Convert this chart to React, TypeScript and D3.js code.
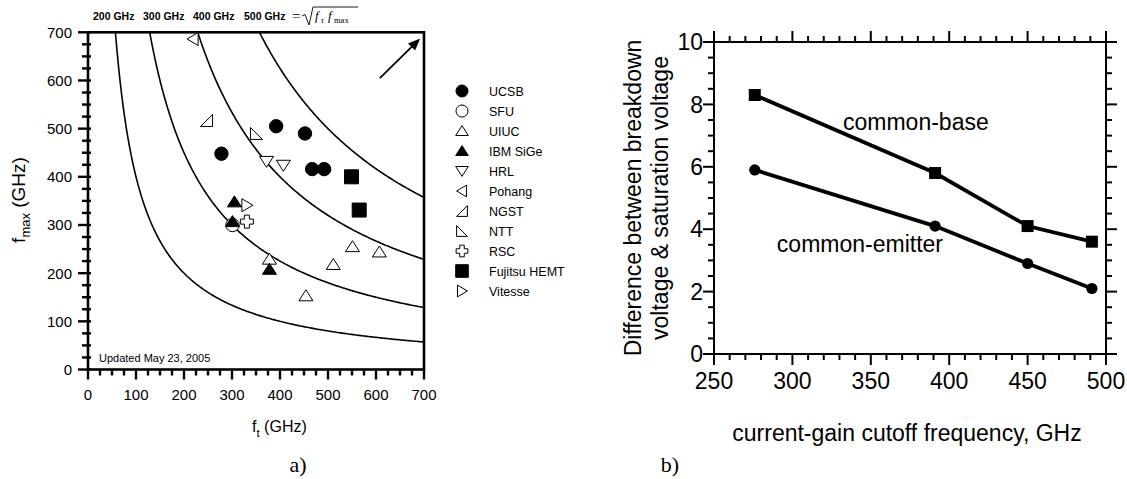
import React from "react";
import * as d3 from "d3";

const SANS = "'Liberation Sans', Arial, Helvetica, sans-serif";
const SERIF = "'Liberation Serif', 'Times New Roman', serif";

// ---- panel a) : fmax vs ft ----
const isoLevels = [200, 300, 400, 500];
const isoLabels = ["200 GHz", "300 GHz", "400 GHz", "500 GHz"];
const legendNames = ["UCSB", "SFU", "UIUC", "IBM SiGe", "HRL", "Pohang", "NGST", "NTT", "RSC", "Fujitsu HEMT", "Vitesse"];
const legendKinds = ["circleFill", "circleOpen", "triUp", "triUpFill", "triDown", "triLeft", "ngst", "ntt", "cross", "square", "triRight"];

const sfu = [[301, 300]];
const ucsb = [[278, 448], [392, 505], [452, 490], [467, 416], [492, 416]];
const uiuc = [[378, 229], [454, 153], [511, 218], [551, 255], [607, 244]];
const ibm = [[305, 348], [301, 307], [378, 208]];
const hrl = [[372, 432], [407, 424]];
const pohang = [[219, 686]];
const ngst = [[247, 517]];
const ntt = [[351, 490]];
const rsc = [[331, 307]];
const fujitsu = [[549, 400], [565, 331]];
const vitesse = [[331, 341]];
const arrowFrom = [608, 605];
const arrowTo = [692, 687];

// ---- panel b) ----
const ftB = [276, 391, 450, 491];
const commonBase = [8.3, 5.8, 4.1, 3.6];
const commonEmitter = [5.9, 4.1, 2.9, 2.1];

function markerPath(kind: string, k = 1) {
  const p = (pts: number[][]) => "M" + pts.map(([x, y]) => `${x * k},${y * k}`).join("L") + "Z";
  switch (kind) {
    case "circleFill":
    case "circleOpen": {
      const r = 6.7 * k;
      return `M${-r},0A${r},${r} 0 1,0 ${r},0A${r},${r} 0 1,0 ${-r},0Z`;
    }
    case "triUp":
    case "triUpFill":
      return p([[0, -6], [7, 5], [-7, 5]]);
    case "triDown":
      return p([[-7, -5], [7, -5], [0, 6]]);
    case "triLeft":
      return p([[-6, 0], [5, -6.5], [5, 6.5]]);
    case "triRight":
      return p([[6, 0], [-5, -6.5], [-5, 6.5]]);
    case "ngst":
      return p([[-6, 6], [6, 6], [6, -6]]);
    case "ntt":
      return p([[-6, -6], [-6, 6], [6, 6]]);
    case "cross":
      return p([[-2.5, -6.5], [2.5, -6.5], [2.5, -2.5], [6.5, -2.5], [6.5, 2.5], [2.5, 2.5], [2.5, 6.5], [-2.5, 6.5], [-2.5, 2.5], [-6.5, 2.5], [-6.5, -2.5], [-2.5, -2.5]]);
    case "square":
      return p([[-7, -7], [7, -7], [7, 7], [-7, 7]]);
  }
  return "";
}
const filled = (kind: string) => kind === "circleFill" || kind === "triUpFill" || kind === "square";

const ChartA = () => {
  const x = d3.scaleLinear().domain([0, 700]).range([88, 424]);
  const y = d3.scaleLinear().domain([0, 700]).range([369.5, 32.3]);
  const ticks = d3.range(0, 701, 25);

  const curves = isoLevels.map(f => {
    const lo = (f * f) / 700;
    const pts = d3.range(0, 201).map(i => lo + ((700 - lo) * i) / 200);
    return d3.line<number>().x(d => x(d)).y(d => y((f * f) / d))(pts) as string;
  });

  const series: [number[][], string][] = [
    [sfu, "circleOpen"], [ucsb, "circleFill"], [uiuc, "triUp"], [ibm, "triUpFill"], [hrl, "triDown"],
    [pohang, "triLeft"], [ngst, "ngst"], [ntt, "ntt"], [rsc, "cross"], [fujitsu, "square"], [vitesse, "triRight"],
  ];

  const ax0 = x(arrowFrom[0]), ay0 = y(arrowFrom[1]);
  const ax1 = x(arrowTo[0]), ay1 = y(arrowTo[1]);
  const ang = Math.atan2(ay1 - ay0, ax1 - ax0);
  const hl = 12, hw = 5;
  const head = [
    [ax1, ay1],
    [ax1 - hl * Math.cos(ang) + hw * Math.sin(ang), ay1 - hl * Math.sin(ang) - hw * Math.cos(ang)],
    [ax1 - hl * Math.cos(ang) - hw * Math.sin(ang), ay1 - hl * Math.sin(ang) + hw * Math.cos(ang)],
  ];

  return (
    <g fontFamily={SANS}>
      {/* iso sqrt(ft*fmax) label */}
      {isoLabels.map((t, i) => (
        <text key={t} x={[93, 143, 193, 244][i]} y={20} fontSize={10.5} fontWeight="bold">{t}</text>
      ))}
      <text x={292} y={21} fontSize={15} fontFamily={SERIF}>=</text>
      <path d="M302,16 L305,14.5 L309,25 L313,7 L358,7" fill="none" stroke="#000" strokeWidth={0.9} />
      <text x={315} y={20} fontSize={13} fontFamily={SERIF} fontStyle="italic">f</text>
      <text x={321} y={23} fontSize={8} fontFamily={SERIF} fontStyle="italic">τ</text>
      <text x={328} y={20} fontSize={13} fontFamily={SERIF} fontStyle="italic">f</text>
      <text x={334} y={23} fontSize={8.5} fontFamily={SERIF}>max</text>

      {/* curves */}
      <clipPath id="clipA"><rect x={88} y={32.3} width={336} height={337.2} /></clipPath>
      <g clipPath="url(#clipA)">
        {curves.map((d, i) => <path key={i} d={d} fill="none" stroke="#000" strokeWidth={1.6} />)}
      </g>

      {/* frame */}
      <rect x={88} y={32.3} width={336} height={337.2} fill="none" stroke="#000" strokeWidth={2.6} />

      {/* x ticks */}
      {ticks.map(t => (
        <line key={"xt" + t} x1={x(t)} x2={x(t)} y1={369.5} y2={369.5 + (t % 100 === 0 ? 10 : 6)} stroke="#000" strokeWidth={2.4} />
      ))}
      {d3.range(0, 701, 100).map(t => (
        <text key={"xl" + t} x={x(t)} y={400} fontSize={15} textAnchor="middle">{t}</text>
      ))}
      {/* y ticks */}
      {ticks.map(t => (
        <line key={"yt" + t} x1={88 - (t % 100 === 0 ? 10 : 6)} x2={91} y1={y(t)} y2={y(t)} stroke="#000" strokeWidth={2.4} />
      ))}
      {d3.range(0, 701, 100).map(t => (
        <text key={"yl" + t} x={72} y={y(t)} dy="0.36em" fontSize={15} textAnchor="end">{t}</text>
      ))}

      {/* axis titles */}
      <text x={252} y={432} fontSize={16}>
        f<tspan fontSize={11.5} dy={5}>t</tspan><tspan dy={-5}> (GHz)</tspan>
      </text>
      <text transform="translate(25,200) rotate(-90)" fontSize={19} textAnchor="middle">
        f<tspan fontSize={13} dy={5}>max</tspan><tspan dy={-5}> (GHz)</tspan>
      </text>
      <text x={99} y={362} fontSize={11}>Updated May 23, 2005</text>

      {/* arrow */}
      <line x1={ax0} y1={ay0} x2={ax1 - 8 * Math.cos(ang)} y2={ay1 - 8 * Math.sin(ang)} stroke="#000" strokeWidth={1.8} />
      <path d={"M" + head.map(p => p.join(",")).join("L") + "Z"} fill="#000" />

      {/* data markers */}
      {series.map(([pts, kind], si) => pts.map((d, i) => (
        <path key={si + "-" + i} transform={`translate(${x(d[0])},${y(d[1])})`} d={markerPath(kind)}
          fill={filled(kind) ? "#000" : "#fff"} stroke="#000" strokeWidth={1} />
      )))}

      {/* legend */}
      {legendNames.map((n, i) => (
        <g key={n} transform={`translate(462,${91 + 20 * i})`}>
          <path d={markerPath(legendKinds[i], 0.9)} fill={filled(legendKinds[i]) ? "#000" : "#fff"} stroke="#000" strokeWidth={1} />
          <text x={27} dy="0.36em" fontSize={12.5}>{n}</text>
        </g>
      ))}

      <text x={298} y={472} fontSize={22} fontFamily={SERIF} textAnchor="middle">a)</text>
    </g>
  );
};

const ChartB = () => {
  const x = d3.scaleLinear().domain([250, 500]).range([714, 1106]);
  const y = d3.scaleLinear().domain([0, 10]).range([354, 42]);
  const xt = d3.range(250, 501, 10);
  const yt = d3.range(0, 10.01, 0.5);
  const line = d3.line<number>().x((d, i) => x(ftB[i])).y(d => y(d));
  const isMajX = (t: number) => t % 50 === 0;
  const isMajY = (t: number) => Math.abs(t % 2) < 1e-6;

  return (
    <g fontFamily={SANS}>
      <rect x={714} y={42} width={392} height={312} fill="none" stroke="#000" strokeWidth={2} />
      {xt.map(t => (
        <g key={"x" + t}>
          <line x1={x(t)} x2={x(t)} y1={354} y2={354 + (isMajX(t) ? 11 : 6)} stroke="#000" strokeWidth={2} />
          <line x1={x(t)} x2={x(t)} y1={42} y2={42 - (isMajX(t) ? 11 : 6)} stroke="#000" strokeWidth={2} />
        </g>
      ))}
      {xt.filter(isMajX).map(t => (
        <text key={"xl" + t} x={x(t)} y={389} fontSize={23} textAnchor="middle">{t}</text>
      ))}
      {yt.map(t => (
        <g key={"y" + t}>
          <line x1={714 - (isMajY(t) ? 11 : 6)} x2={714} y1={y(t)} y2={y(t)} stroke="#000" strokeWidth={2} />
          <line x1={1106} x2={1106 + (isMajY(t) ? 11 : 6)} y1={y(t)} y2={y(t)} stroke="#000" strokeWidth={2} />
        </g>
      ))}
      {yt.filter(isMajY).map(t => (
        <text key={"yl" + t} x={703} y={y(t)} dy="0.36em" fontSize={23} textAnchor="end">{t}</text>
      ))}

      <path d={line(commonBase) as string} fill="none" stroke="#000" strokeWidth={3.8} />
      <path d={line(commonEmitter) as string} fill="none" stroke="#000" strokeWidth={3.8} />
      {commonBase.map((v, i) => (
        <rect key={"b" + i} x={x(ftB[i]) - 6} y={y(v) - 6} width={12} height={12} fill="#000" />
      ))}
      {commonEmitter.map((v, i) => (
        <circle key={"e" + i} cx={x(ftB[i])} cy={y(v)} r={5.6} fill="#000" />
      ))}

      <text x={843} y={130} fontSize={23}>common-base</text>
      <text x={943} y={252} fontSize={23} textAnchor="end">common-emitter</text>

      <text x={907} y={441} fontSize={23} textAnchor="middle">current-gain cutoff frequency, GHz</text>
      <text transform="translate(641,198) rotate(-90)" fontSize={23} textAnchor="middle">Difference between breakdown</text>
      <text transform="translate(668,198) rotate(-90)" fontSize={23} textAnchor="middle">voltage &amp; saturation voltage</text>

      <text x={670} y={472} fontSize={22} fontFamily={SERIF} textAnchor="middle">b)</text>
    </g>
  );
};

export default function App() {
  return (
    <svg width={1127} height={479} style={{ position: "absolute", left: 0, top: 0, background: "#fff" }}>
      <rect width={1127} height={479} fill="#fff" />
      <ChartA />
      <ChartB />
    </svg>
  );
}
